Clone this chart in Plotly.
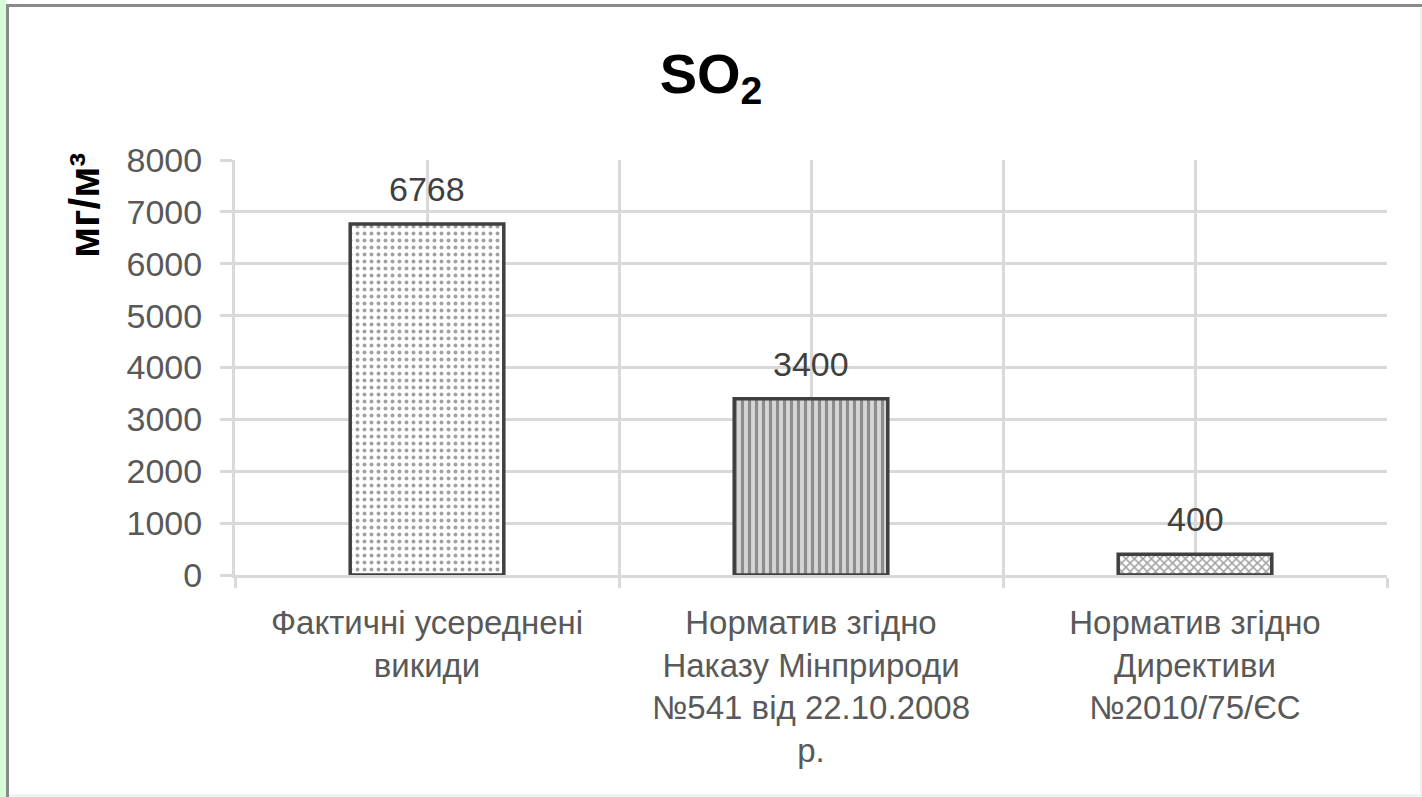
import plotly.graph_objects as go

# ---- data ----
categories = [
    "Фактичні усереднені<br>викиди",
    "Норматив згідно<br>Наказу Мінприроди<br>№541 від 22.10.2008<br>р.",
    "Норматив згідно<br>Директиви<br>№2010/75/ЄС",
]
values = [6768, 3400, 400]
y_ticks = [0, 1000, 2000, 3000, 4000, 5000, 6000, 7000, 8000]
title_text = "SO<sub>2</sub>"
y_title = "мг/м³"

# ---- layout geometry (pixels of the 1422x797 page) ----
W, H = 1422, 797
L, R, T, B = 235, 1387, 160, 575


def px(x):
    return (x - L) / (R - L)


def py(y):
    return (B - y) / (B - T)


FONT = "Liberation Sans"
GREY_TXT = "#595959"
GRID = "#d9d9d9"

xpos = list(range(len(categories)))

fig = go.Figure()
fig.add_trace(go.Bar(
    x=xpos,
    y=values,
    width=0.40,
    marker=dict(
        color=["#ffffff", "#d6d6d6", "#ffffff"],
        line=dict(color="#404040", width=3.5),
        pattern=dict(
            shape=[".", "|", "x"],
            fgcolor=["#cdcdcd", "#9c9c9c", "#757575"],
            size=[7, 7, 6],
            solidity=[0.25, 0.45, 0.45],
            fillmode="overlay",
        ),
    ),
    hoverinfo="skip",
))

# data labels
for xi, v in zip(xpos, values):
    fig.add_annotation(
        x=xi, y=v, text=str(v), showarrow=False,
        yanchor="bottom", yshift=14,
        font=dict(family=FONT, size=34, color="#404040"),
    )

# y-axis title
fig.add_annotation(
    xref="paper", yref="paper", x=px(84), y=py(206),
    xanchor="center", yanchor="middle",
    text=y_title, textangle=-90, showarrow=False,
    font=dict(family=FONT, size=42, color="#000000", weight="bold"),
)

# outer frame
fig.add_shape(type="rect", xref="paper", yref="paper",
              x0=px(0), x1=px(6), y0=py(797), y1=py(0),
              fillcolor="#d8fcd8", line=dict(width=0), layer="below")
fig.add_shape(type="line", xref="paper", yref="paper",
              x0=px(7.5), x1=px(7.5), y0=py(797), y1=py(5.5),
              line=dict(color="#8a8a8a", width=3))
fig.add_shape(type="line", xref="paper", yref="paper",
              x0=px(6), x1=px(1422), y0=py(5.5), y1=py(5.5),
              line=dict(color="#8a8a8a", width=3))
fig.add_shape(type="line", xref="paper", yref="paper",
              x0=px(9), x1=px(1422), y0=py(795.5), y1=py(795.5),
              line=dict(color="#eeeeee", width=2))
fig.add_shape(type="line", xref="paper", yref="paper",
              x0=px(1421), x1=px(1421), y0=py(795.5), y1=py(8),
              line=dict(color="#f0f0f0", width=2))

fig.update_layout(
    width=W, height=H,
    margin=dict(l=L, r=W - R, t=T, b=H - B),
    paper_bgcolor="white",
    plot_bgcolor="white",
    showlegend=False,
    title=dict(
        text=title_text, x=0.5, xref="container", xanchor="center",
        y=1 - 73 / H, yref="container", yanchor="middle",
        font=dict(family=FONT, size=56, color="#000000", weight="bold"),
    ),
)

fig.update_xaxes(
    range=[-0.5, len(categories) - 0.5],
    tickvals=xpos, ticktext=categories,
    showgrid=True, gridcolor=GRID, gridwidth=3,
    ticks="", zeroline=False,
    showline=True, linecolor=GRID, linewidth=3,
    tickfont=dict(family=FONT, size=33, color=GREY_TXT),
    ticklabelstandoff=16,
    minor=dict(tickvals=[i - 0.5 for i in range(len(categories) + 1)],
               showgrid=True, gridcolor=GRID, gridwidth=3,
               ticks="outside", ticklen=10, tickcolor=GRID, tickwidth=3),
)
fig.update_yaxes(
    range=[0, 8000], tickvals=y_ticks,
    showgrid=True, gridcolor=GRID, gridwidth=3,
    ticks="outside", ticklen=12, tickcolor=GRID, tickwidth=3,
    zeroline=False,
    showline=True, linecolor=GRID, linewidth=3,
    tickfont=dict(family=FONT, size=34, color=GREY_TXT),
    ticklabelstandoff=11,
)

fig.write_html(
    "out.html",
    config={"displayModeBar": False},
    post_script="document.body.style.margin='0';document.body.style.padding='0';",
)
